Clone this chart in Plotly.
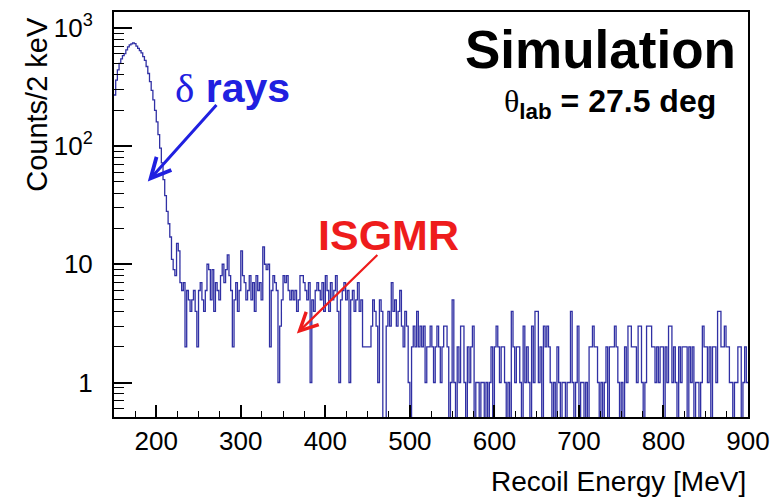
import plotly.graph_objects as go

# Histogram binning (MeV)
bin_low = 150
bin_width = 2

# Counts per bin, 150-900 MeV
counts = [
    # 150-220: delta-ray peak
    270, 360, 440, 500, 545, 580, 605, 650, 690, 715,
    730, 745, 735, 700, 668, 640, 612, 570, 530, 470,
    410, 350, 295, 245, 200, 160, 125, 96, 72, 52,
    38, 28, 22, 17, 11,
    # 220-330
    9, 8, 15, 13, 7, 6, 7, 2, 6, 5,
    4, 5, 6, 4, 2, 6, 7, 5, 4, 6,
    10, 9, 5, 9, 4, 7, 6, 5, 8, 10,
    7, 9, 12, 8, 6, 2, 5, 7, 4, 6,
    13, 8, 7, 5, 6, 8, 5, 7, 4, 8,
    6, 7, 5, 14, 10,
    # 330-400
    9, 10, 2, 6, 8, 7, 6, 1, 3, 5,
    8, 7, 8, 6, 5, 6, 5, 6, 4, 5,
    8, 8, 7, 6, 5, 7, 1, 5, 4, 6,
    7, 6, 5, 7, 4,
    # 400-480
    8, 6, 4, 7, 5, 6, 8, 4, 1, 5,
    6, 7, 5, 6, 1, 5, 6, 4, 5, 7,
    4, 5, 2, 2, 2, 2, 2, 3, 5, 4,
    3, 1, 5, 4, 0, 0, 3, 4, 3, 7,
    # 480-550
    4, 5, 3, 4, 6, 3, 2, 4, 3, 1,
    0, 2, 3, 2, 4, 2, 3, 2, 3, 1,
    2, 2, 3, 2, 1, 2, 3, 2, 1, 2,
    3, 3, 2, 0, 1,
    # 550-900
    5, 1, 0, 2, 1, 3, 3, 1, 0, 2,
    1, 2, 3, 0, 1, 1, 0, 1, 1, 0,
    1, 0, 1, 2, 0, 2, 3, 2, 1, 2,
    2, 1, 0, 1, 0, 4, 2, 1, 2, 2,
    1, 0, 3, 1, 2, 1, 0, 3, 1, 4,
    4, 1, 2, 0, 3, 2, 3, 2, 1, 0,
    1, 0, 2, 1, 0, 1, 1, 0, 1, 1,
    4, 1, 0, 1, 3, 0, 1, 1, 0, 1,
    0, 2, 2, 3, 2, 2, 1, 0, 1, 0,
    1, 2, 0, 2, 2, 2, 3, 2, 1, 0,
    1, 0, 2, 1, 3, 3, 2, 2, 2, 1,
    3, 3, 1, 0, 1, 3, 3, 3, 2, 2,
    1, 2, 1, 2, 2, 0, 2, 1, 3, 3,
    1, 2, 1, 0, 2, 1, 2, 2, 2, 0,
    2, 1, 2, 0, 1, 1, 0, 1, 3, 2,
    2, 1, 2, 0, 2, 2, 1, 4, 4, 2,
    2, 3, 2, 2, 1, 1, 0, 1, 1, 2,
    2, 0, 1, 2, 1,
]

x_ticks = [200, 300, 400, 500, 600, 700, 800, 900]
y_ticks = [1, 10, 100, 1000]
y_tick_text = ["1", "10", "10<sup>2</sup>", "10<sup>3</sup>"]

x_range = [150, 900]
y_log_range = [-0.2916, 3.133]

# Bin edges and step outline; empty bins drop below the frame (log scale)
edges = [bin_low + bin_width * i for i in range(len(counts) + 1)]
floor = 10 ** (y_log_range[0] - 1)
step_y = [c if c > 0 else floor for c in counts]
step_y = step_y + [step_y[-1]]

y_minor = [m * 10 ** k for k in range(-1, 3) for m in range(2, 10)
           if 10 ** y_log_range[0] < m * 10 ** k < 10 ** y_log_range[1]]

fig = go.Figure()
fig.add_trace(go.Scatter(
    x=edges, y=step_y, mode="lines", line_shape="hv",
    line=dict(color="#3030a4", width=1.3),
    hoverinfo="skip", showlegend=False,
))

font_main = "Liberation Sans, Arial, Helvetica, sans-serif"

fig.update_layout(
    width=780, height=498,
    margin=dict(l=114, r=28, t=10, b=81),
    paper_bgcolor="white", plot_bgcolor="white",
    font=dict(family=font_main, color="black"),
    xaxis=dict(
        range=x_range, tickvals=x_ticks, ticks="inside", ticklen=12,
        tickwidth=1.5, tickcolor="black",
        showline=True, linecolor="black", linewidth=2, mirror=True,
        showgrid=False, zeroline=False,
        tickfont=dict(size=26, family=font_main),
        minor=dict(dtick=25, ticks="inside", ticklen=6, tickwidth=1.2,
                   tickcolor="black", showgrid=False),
    ),
    yaxis=dict(
        type="log", range=y_log_range, tickvals=y_ticks, ticktext=y_tick_text,
        ticks="inside", ticklen=18, tickwidth=1.5, tickcolor="black",
        showline=True, linecolor="black", linewidth=2, mirror=True,
        showgrid=False, zeroline=False, ticklabelstandoff=14,
        tickfont=dict(size=26, family=font_main),
        minor=dict(tickvals=y_minor, ticks="inside", ticklen=10, tickwidth=1.2,
                   tickcolor="black", showgrid=False),
    ),
)

# Axis titles
fig.add_annotation(
    text="Recoil Energy [MeV]", xref="paper", yref="paper",
    x=1.0, y=-0.16, xanchor="right", yanchor="middle", showarrow=False,
    font=dict(size=28, family=font_main, color="black"),
)
fig.add_annotation(
    text="Counts/2 keV", xref="paper", yref="paper", textangle=-90,
    x=-0.1207, y=0.772, xanchor="center", yanchor="middle", showarrow=False,
    font=dict(size=29, family=font_main, color="black"),
)

# Labels inside the frame
fig.add_annotation(
    text="<b>Simulation</b>", xref="paper", yref="paper",
    x=0.984, y=0.908, xanchor="right", yanchor="middle", showarrow=False,
    font=dict(size=53, family=font_main, color="black"),
)
fig.add_annotation(
    text="<span style='font-family:Liberation Serif'>θ</span><sub><b>lab</b></sub><b> = 27.5 deg</b>",
    xref="paper", yref="paper",
    x=0.953, y=0.775, xanchor="right", yanchor="middle", showarrow=False,
    font=dict(size=32, family=font_main, color="black"),
)
fig.add_annotation(
    text="<span style='font-family:Liberation Serif'>δ</span> <b>rays</b>",
    xref="paper", yref="paper",
    x=0.187, y=0.812, xanchor="center", yanchor="middle", showarrow=False,
    font=dict(size=41, family=font_main, color="#2020e0"),
)
fig.add_annotation(
    text="<b>ISGMR</b>", xref="paper", yref="paper",
    x=0.4326, y=0.449, xanchor="center", yanchor="middle", showarrow=False,
    font=dict(size=43, family=font_main, color="#ee1c1c"),
)

# Pointer arrows
fig.add_annotation(
    text="", xref="paper", yref="paper", x=0.0533, y=0.5816,
    ax=70, ay=-78, showarrow=True, arrowhead=5, arrowsize=1.3,
    arrowwidth=3, arrowcolor="#2020e0",
)
fig.add_annotation(
    text="", xref="paper", yref="paper", x=0.2884, y=0.2061,
    ax=82, ay=-80, showarrow=True, arrowhead=5, arrowsize=1.6,
    arrowwidth=2.2, arrowcolor="#ee1c1c",
)

fig.write_html("out.html")
